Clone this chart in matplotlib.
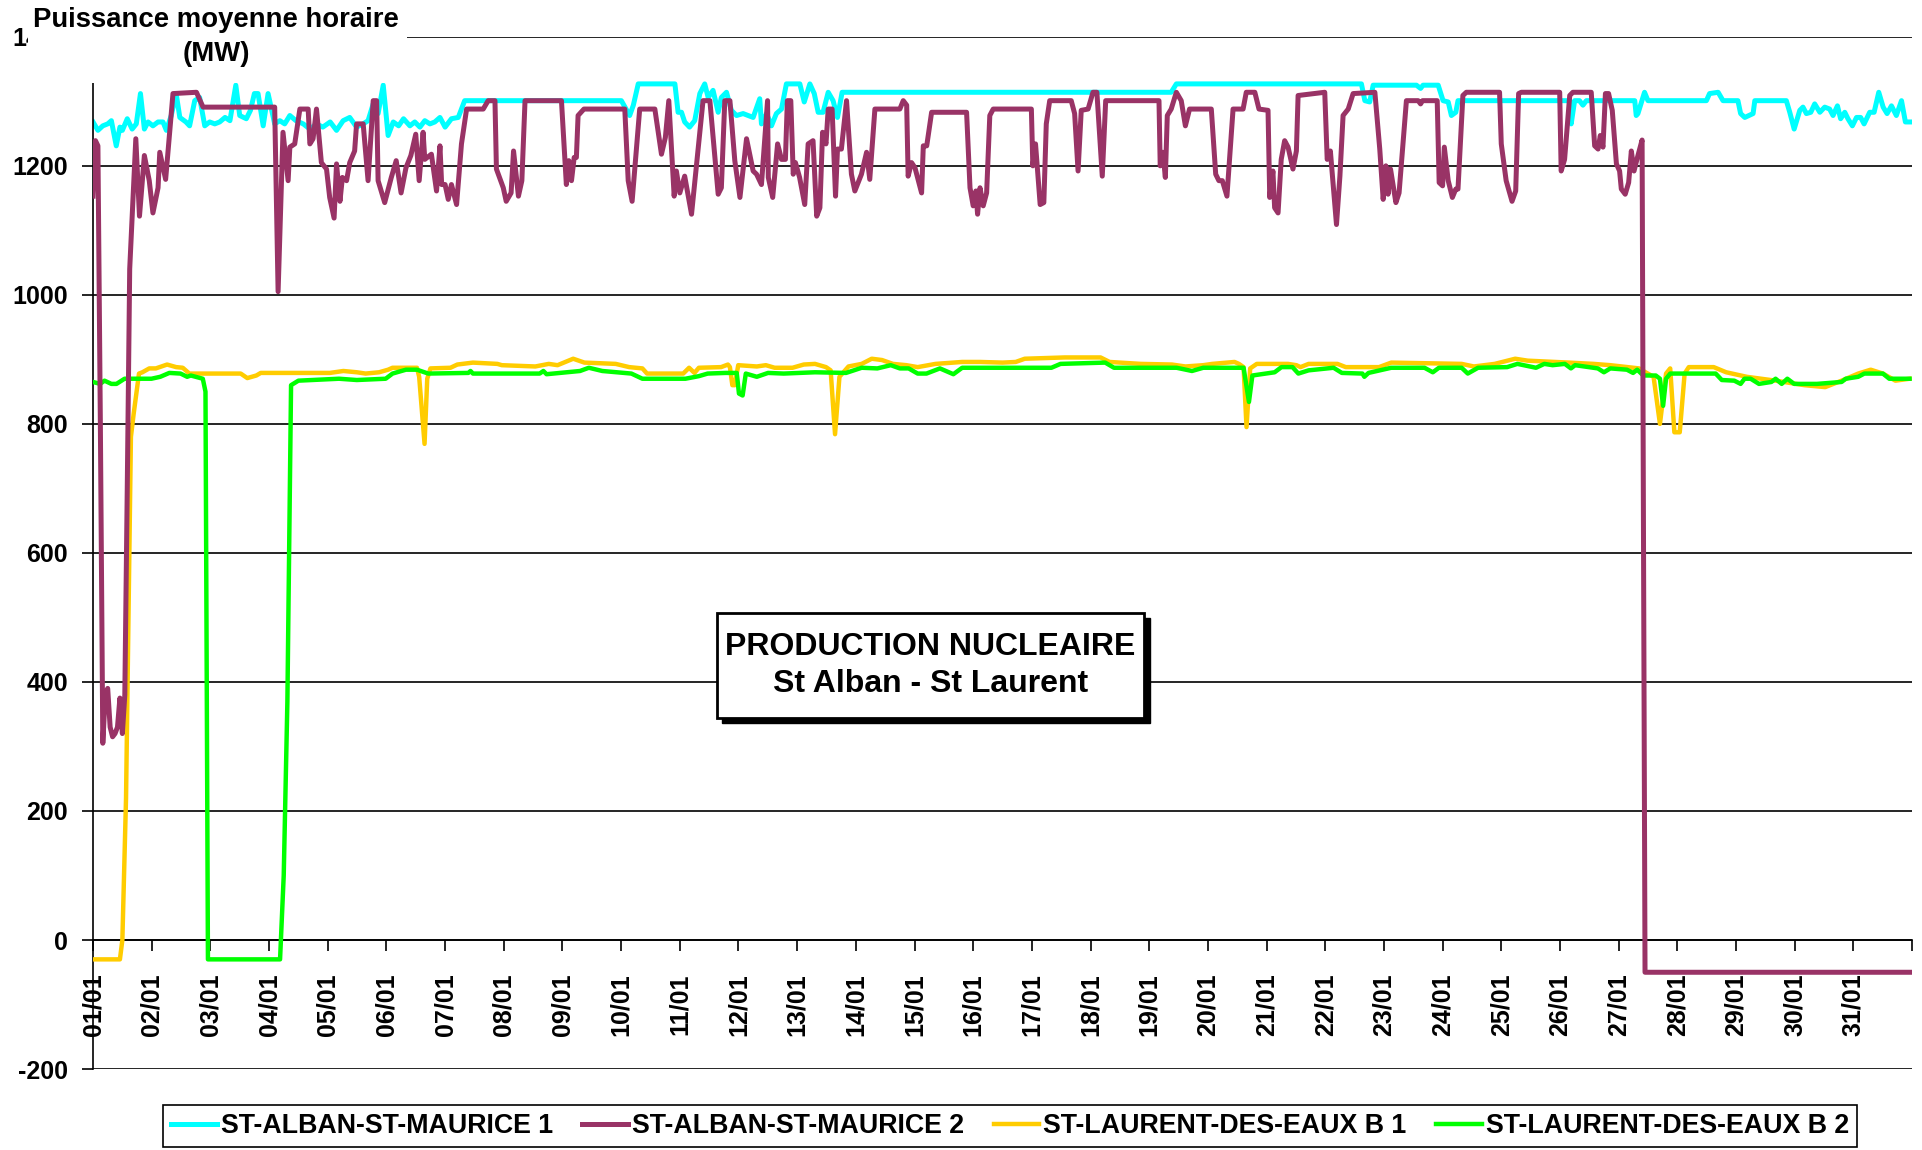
import matplotlib
matplotlib.use("Agg")
import matplotlib.pyplot as plt
from matplotlib.patches import Rectangle

plt.rcParams['font.family'] = ['Liberation Sans', 'DejaVu Sans']
plt.rcParams['font.weight'] = 'bold'
plt.rcParams['axes.unicode_minus'] = False

# hourly production, january (hour index, MW)
alban1 = [(0,1268),(2,1255),(4,1262),(6,1265),(7.5,1270),(9.5,1231),(11,1260),(12,1255),(14,1273),(16,1257),
          (17.7,1265),(19.4,1312),(21,1257),(22.5,1268),(24.5,1262),(26.6,1268),(28.6,1268),(30,1255),(32,1278),
          (34,1312),(35.5,1275),(38,1268),(39.5,1262),(41.6,1301),(43.6,1306),(45.7,1262),(47.7,1268),(49.8,1265),
          (51.8,1268),(54,1275),(56,1270),(58.4,1325),(60,1278),(62.7,1273),(64.4,1286),(66,1312),(67.5,1312),
          (69.6,1262),(71.6,1312),(74.3,1265),(76.4,1270),(78.4,1265),(80.5,1278),(83,1270),(86,1265),(88.7,1257),
          (91.4,1265),(94,1260),(97,1268),(99.6,1255),(102.3,1270),(105,1275),(107.8,1260),(110.5,1265),(112.5,1270),
          (114.6,1296),(116.6,1281),(118.7,1325),(120.7,1247),(122.8,1268),(125,1262),(127,1273),(129.6,1262),
          (131.6,1268),(133.7,1260),(135.7,1270),(137.8,1265),(139.8,1268),(141.9,1275),(144,1260),(146.6,1273),
          (149.4,1275),(152,1301),(216.1,1301),(219.5,1278),(221,1294),(223,1327),(238,1327),(239.3,1283),
          (240.7,1283),(242,1268),(244,1260),(246.1,1270),(248.2,1312),(250.2,1327),(251.6,1306),(253.6,1317),
          (255.7,1283),(257,1306),(259.1,1314),(261.1,1286),(263.2,1278),(265.9,1281),(268,1278),(270,1275),
          (272.7,1304),(273.4,1265),(275.5,1281),(277.5,1262),(279.5,1281),(281.6,1288),(283.6,1327),(289.1,1327),
          (290.9,1299),(293.2,1327),(295,1312),(296.6,1283),(298.6,1283),(300.7,1314),(302.7,1301),(304.5,1275),
          (306.4,1314),(441,1314),(443.1,1327),(518.8,1327),(520.2,1301),(522.2,1299),(523.6,1325),(541.3,1325),
          (543,1320),(544,1325),(550.2,1325),(552.2,1301),(554.3,1299),(555.6,1278),(557.4,1283),(558.3,1301),
          (604,1301),(604.6,1265),(606,1301),(608,1301),(609.4,1294),(610.8,1301),(630.6,1301),(631.2,1278),
          (631.9,1281),(634.6,1314),(636,1301),(659.9,1301),(661.2,1312),(664.7,1314),(666.7,1301),(672.8,1301),
          (673.9,1281),(675.6,1275),(679,1281),(679.7,1301),(692.6,1301),(694,1283),(695.8,1257),(698.1,1286),
          (699.4,1291),(700.8,1281),(702.6,1283),(704.2,1296),(706.3,1283),(708.3,1291),(710.3,1288),(711.7,1278),
          (713.5,1293),(714.8,1273),(716.5,1283),(717.8,1273),(719.6,1262),(721.3,1275),(723,1275),(724.4,1265),
          (726.7,1283),(728.5,1283),(730.4,1314),(732.2,1291),(733.8,1281),(735.6,1293),(737.6,1278),(739.7,1301),
          (741.3,1268),(743,1268)]

alban2 = [(0,1153),(1,1239),(2,1231),(3,800),(4,305),(5,380),(6,390),(7,330),(8,315),(9,320),(10,330),(11,375),
          (12,320),(13,380),(14,700),(15,1040),(17.5,1242),(19,1122),(21,1216),(23,1177),(24.5,1127),(26.6,1166),
          (27.3,1221),(29.7,1179),(32.7,1312),(42.3,1314),(45,1291),(74.3,1291),(75.7,1005),(77.7,1252),(79.8,1177),
          (80.5,1229),(82.5,1234),(84.6,1288),(88,1288),(88.7,1234),(90,1242),(91.4,1288),(93.4,1205),(95.5,1195),
          (96.8,1151),(98.6,1119),(99.6,1203),(101,1145),(102,1182),(103.7,1177),(105,1205),(107,1223),(107.8,1265),
          (110.5,1265),(112.5,1177),(114.6,1301),(116,1301),(116.6,1177),(119.3,1143),(122,1182),(124,1208),
          (126,1158),(128,1197),(130,1216),(132,1249),(133.4,1177),(135,1252),(135.7,1210),(138.4,1218),(140.5,1161),
          (141.9,1231),(142.6,1171),(144,1171),(145.3,1148),(146.6,1171),(148.7,1140),(150.7,1234),(152.8,1288),
          (159.6,1288),(161.6,1301),(164.4,1301),(165,1195),(167.8,1166),(169,1145),(171,1158),(172,1223),
          (174,1153),(175.4,1177),(176.7,1301),(191.6,1301),(193.6,1171),(194.6,1208),(195.7,1177),(196.8,1213),
          (197.7,1213),(198.4,1278),(200.8,1288),(217.5,1288),(218.9,1177),(220.5,1145),(223.6,1288),(229.8,1288),
          (232.5,1218),(234.1,1244),(235.5,1301),(237.7,1153),(238.6,1192),(240,1158),(242,1184),(244.8,1125),
          (249.5,1301),(252.3,1301),(255.7,1156),(257,1166),(258.4,1301),(260.5,1301),(262.5,1208),(264.6,1151),
          (267.3,1242),(270,1192),(271.4,1187),(273.4,1171),(275.9,1301),(276.2,1182),(278,1151),(280,1234),
          (281.6,1210),(283.2,1210),(284,1301),(285.4,1301),(286.4,1187),(287.3,1205),(289,1182),(291.1,1140),
          (292.5,1234),(294.5,1239),(296,1122),(297.3,1135),(298.4,1252),(299.8,1234),(300.7,1288),(302.3,1288),
          (303.7,1153),(304.5,1226),(306.1,1226),(308.2,1301),(310.2,1187),(311.6,1161),(314.3,1187),(316.4,1221),
          (317.7,1179),(319.8,1288),(330,1288),(331.4,1301),(332.8,1294),(333.4,1184),(334.8,1205),(336.2,1197),
          (338.9,1158),(339.6,1231),(341,1231),(343,1283),(357.3,1283),(358.7,1166),(360,1138),(361.1,1161),
          (361.8,1125),(362.8,1166),(364.1,1138),(365.5,1158),(366.8,1278),(368.2,1288),(383.8,1288),(384.4,1200),
          (385.5,1234),(387.4,1140),(388.9,1143),(389.9,1265),(391.3,1301),(400.1,1301),(401.5,1281),(402.9,1192),
          (404.2,1286),(407,1288),(409,1314),(410.6,1314),(412.8,1184),(414.2,1301),(436,1301),(436.5,1200),
          (437.6,1221),(438.6,1182),(439.4,1278),(441,1288),(443.1,1314),(445.1,1301),(446.8,1262),(448.5,1288),
          (457.4,1288),(459.2,1187),(460.5,1177),(461.9,1177),(463.8,1153),(466.3,1288),(470.4,1288),(471.7,1314),
          (475.2,1314),(476.9,1288),(480.6,1286),(481.3,1151),(482.6,1192),(483.3,1135),(484.7,1127),(486,1210),
          (487.4,1239),(488.8,1229),(490.8,1195),(492.2,1223),(492.9,1309),(503.8,1314),(504.8,1210),(506.1,1223),
          (508.6,1109),(510,1184),(511.3,1278),(513.4,1288),(515.4,1312),(524.3,1314),(526.3,1226),(527.7,1148),
          (528.8,1200),(529.7,1156),(530.7,1195),(532.9,1143),(534.2,1158),(537.2,1301),(542,1301),(543,1296),
          (543.8,1301),(549.8,1301),(550.6,1174),(552,1169),(552.7,1229),(554.3,1177),(556,1151),(557.4,1164),
          (558.3,1164),(560.3,1309),(561.7,1314),(575.3,1314),(576,1234),(578,1177),(580.4,1145),(581.9,1161),
          (583.1,1312),(584.2,1314),(599.9,1314),(600.5,1192),(601.9,1210),(604,1309),(605.3,1314),(612.8,1314),
          (614.2,1231),(615.6,1226),(616.5,1247),(617.6,1229),(618.6,1312),(619.9,1312),(621.4,1286),(623.1,1203),
          (624.4,1192),(625.1,1164),(626.7,1156),(628.1,1174),(629.2,1223),(630.3,1192),(631.7,1213),(633.6,1240),
          (634.8,-50),(743,-50)]

laurent1 = [(0,-30),(11,-30),(12,0),(13.5,220),(15.5,780),(16.6,815),(18.8,878),(20.2,880),(23,886),(25.7,886),
            (30.3,892),(34,888),(36.7,887),(39.4,878),(60.4,878),(63.1,871),(66.8,875),(68.6,879),(96.9,879),
            (102.4,882),(107.9,880),(111.5,878),(117,880),(120.7,884),(122.5,887),(132.5,887),(133.4,873),
            (135.6,769),(136.7,870),(138,886),(146.2,887),(149,892),(155.4,895),(165.4,893),(167.2,891),(180.9,889),
            (186.4,893),(190,891),(196.4,901),(201,895),(213.8,893),(219.3,888),(224.7,886),(226.6,878),(241.4,878),
            (243.8,887),(246,879),(247.8,887),(256.9,888),(259.7,892),(260.5,888),(261.5,860),(262.5,860),
            (263.9,891),(271.5,889),(275.2,891),(278.8,887),(286.1,887),(290.7,892),(295.3,893),(299.8,888),
            (301.7,883),(303.5,784),(305.3,873),(309,889),(314.4,893),(318.5,901),(322.7,899),(327.2,893),
            (332.7,891),(337.3,888),(341.8,891),(344.6,893),(355.5,896),(362.8,896),(372,895),(377.4,896),
            (381.1,901),(397.5,903),(412.1,903),(415.8,896),(428.6,893),(441.3,892),(446.8,889),(454.1,891),
            (457.8,893),(466.9,896),(468.7,893),(470.6,888),(471.8,795),(473.3,886),(476,893),(488.8,893),
            (492.2,891),(493.9,888),(497.2,893),(509,893),(512.4,888),(526,888),(531,895),(559.8,893),(564.8,889),
            (573.3,893),(581.7,901),(586.8,898),(603.7,895),(613.8,893),(620.6,891),(632.4,886),(635,880),
            (638.3,873),(640.9,800),(643.4,878),(645.1,886),(646.8,787),(649,787),(651,878),(652.7,888),(662.9,888),
            (668,880),(676.4,873),(688.2,867),(700,860),(708.5,857),(715.2,867),(722,878),(727.1,884),(732.1,878),
            (737.2,867),(743,870)]

laurent2 = [(0,865),(2.9,862),(4.7,867),(7.5,862),(9.6,862),(12.9,870),(23.9,870),(27.5,873),(31.2,879),
            (35.8,878),(38.5,873),(40,875),(44.9,870),(46,850),(47,-30),(76.5,-30),(78,100),(79.5,370),(81,860),
            (84,867),(89.6,868),(100.6,870),(107.9,868),(119.7,870),(122.5,878),(128,884),(132.5,884),(137.1,878),
            (153.5,879),(154.4,882),(155.4,878),(182.7,878),(184.2,882),(185.5,877),(199.2,882),(202.8,887),
            (208.3,882),(220.2,878),(224.7,870),(242.3,870),(247.8,874),(251.4,878),(258.7,879),(263.3,879),
            (264.2,847),(265.7,844),(267,878),(271.5,873),(276.1,879),(282.5,878),(295.3,880),(308,879),(314.4,887),
            (320.8,886),(326.3,891),(330,886),(333.6,886),(337.3,878),(340.9,878),(346.4,886),(351.9,877),
            (355.5,887),(392,887),(395.7,893),(414,895),(417.6,887),(443.2,887),(449.5,882),(454.1,887),(470.6,887),
            (472.8,834),(474.2,875),(483.3,880),(486.1,888),(490.6,888),(493,878),(497.2,883),(507.4,887),
            (510.8,879),(519.2,878),(520,873),(521.7,879),(531,887),(544.6,887),(548,880),(550.5,887),(559.8,887),
            (562.3,878),(566.5,887),(578.4,888),(582.6,893),(590.2,887),(593.6,893),(597,891),(602,893),(604.5,886),
            (606.2,891),(615.5,886),(618,880),(620.6,886),(627.4,884),(629.9,879),(631.6,884),(634.1,875),
            (639.2,875),(640.9,870),(642.2,828),(643.4,870),(645.1,878),(663.7,878),(666.2,868),(671.3,867),
            (673.9,862),(675.5,870),(678,870),(681.4,862),(686.5,865),(688.2,870),(690.7,862),(693,870),(695.8,862),
            (705.1,862),(715.2,865),(716.9,870),(722,873),(724.5,878),(732.1,878),(734.7,870),(743,870)]

names = ['ST-ALBAN-ST-MAURICE 1', 'ST-ALBAN-ST-MAURICE 2',
         'ST-LAURENT-DES-EAUX B 1', 'ST-LAURENT-DES-EAUX B 2']
colors = ['#00FFFF', '#993366', '#FFCC00', '#00FF00']
days = ['%02d/01' % d for d in range(1, 32)]

fig = plt.figure(figsize=(19.22, 11.5), dpi=100)
ax = fig.add_axes([0.0484, 0.0704, 0.9464, 0.8976])

series = [alban1, alban2, laurent1, laurent2]
zorders = [2, 5, 3, 4]
widths = [3.6, 3.6, 3.2, 3.2]
lines = []
for s, name, c, z, w in zip(series, names, colors, zorders, widths):
    hx = [p[0] for p in s]
    mw = [p[1] for p in s]
    ln, = ax.plot(hx, mw, color=c, lw=w, zorder=z, label=name, solid_joinstyle='round')
    lines.append(ln)

# spine position first: moving it resets the tick formatting
ax.spines['top'].set_visible(False)
ax.spines['right'].set_visible(False)
ax.spines['bottom'].set_position(('data', 0))
ax.spines['bottom'].set_linewidth(1.2)
ax.spines['left'].set_linewidth(1.2)

ax.set_xlim(0, 744)
ax.set_ylim(-200, 1400)
ax.set_yticks(range(-200, 1401, 200))
ax.set_xticks(range(0, 745, 24))
ax.set_xticklabels(days + [''], rotation=90, fontsize=18, fontweight='bold')
ax.tick_params(axis='x', direction='out', length=8, width=1.2, pad=16)
ax.tick_params(axis='y', direction='out', length=8, width=1.2, pad=10, labelsize=18)
for t in ax.get_yticklabels():
    t.set_fontweight('bold')

ax.yaxis.grid(True, color='black', lw=1.2)

# white block behind the unit title (hides part of the 1400 label)
fig.add_artist(Rectangle((0.0145, 0.928), 0.197, 0.072, transform=fig.transFigure,
                         facecolor='white', edgecolor='none', zorder=10))
fig.text(0.1124, 0.968, 'Puissance moyenne horaire\n(MW)', ha='center', va='center',
         fontsize=19.8, fontweight='bold', linespacing=1.4, zorder=11)

# framed caption with shadow
bx, by, bw, bh = 0.3731, 0.3757, 0.2222, 0.0913
fig.add_artist(Rectangle((bx + 0.0028, by - 0.0045), bw, bh, transform=fig.transFigure,
                         facecolor='black', edgecolor='black', zorder=10))
fig.add_artist(Rectangle((bx, by), bw, bh, transform=fig.transFigure,
                         facecolor='white', edgecolor='black', lw=2, zorder=11))
fig.text(bx + bw / 2, by + bh / 2, 'PRODUCTION NUCLEAIRE\nSt Alban - St Laurent', ha='center',
         va='center', fontsize=23, fontweight='bold', linespacing=1.3, zorder=12)

leg = fig.legend(handles=lines, labels=names, loc='center', bbox_to_anchor=(0.5255, 0.0209), ncol=4,
                 fancybox=False, edgecolor='black', framealpha=1,
                 prop={'size': 19.3, 'weight': 'bold'}, handlelength=1.7, handletextpad=0.15,
                 columnspacing=1.1, borderpad=0.3, borderaxespad=0)
leg.get_frame().set_linewidth(1.2)

fig.savefig('out.png', dpi=100)
